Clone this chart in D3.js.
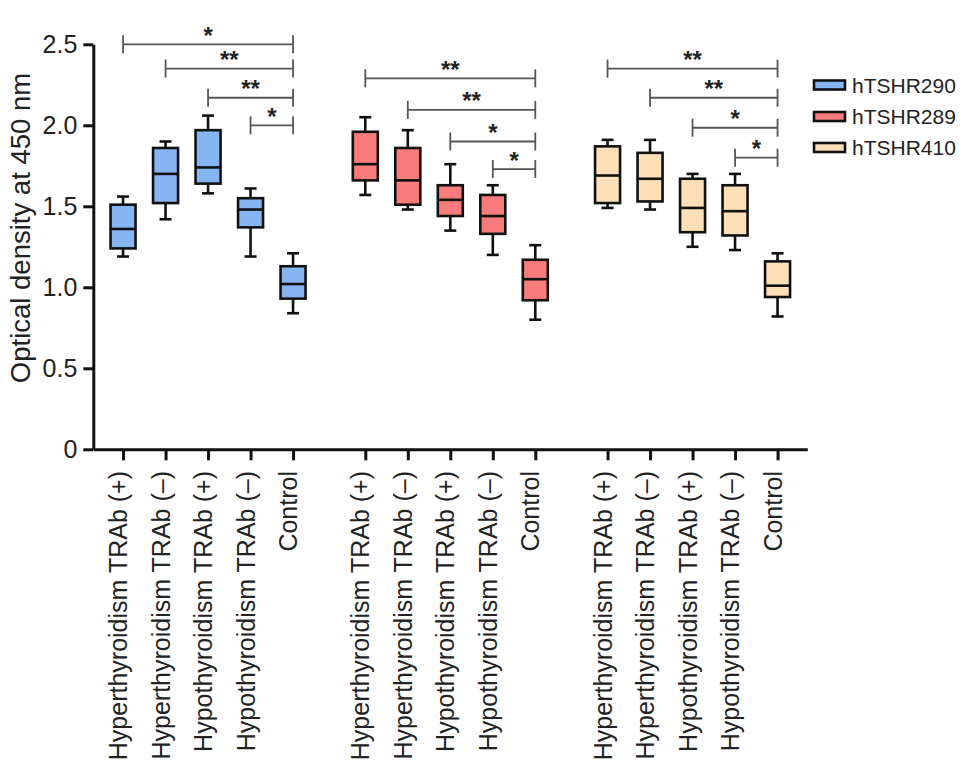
<!DOCTYPE html>
<html>
<head>
<meta charset="utf-8">
<script src="https://cdn.jsdelivr.net/npm/d3@7"></script>
<style>
  body { margin: 0; background: #fff; }
  text { font-family: "Liberation Sans", Arial, Helvetica, sans-serif; fill: #222; }
</style>
</head>
<body>
<div id="chart"></div>
<script>
// groups / series
var series = ["hTSHR290", "hTSHR289", "hTSHR410"];
var seriesColors = ["#86b6f2", "#f87c7c", "#fde0b8"];
var categories = ["Hyperthyroidism TRAb (+)", "Hyperthyroidism TRAb (\u2013)",
                  "Hypothyroidism TRAb (+)", "Hypothyroidism TRAb (\u2013)", "Control"];

// box stats per series: [whisker low, q1, median, q3, whisker high]
var box290 = [
  [1.19, 1.24, 1.36, 1.51, 1.56],
  [1.42, 1.52, 1.70, 1.86, 1.90],
  [1.58, 1.64, 1.74, 1.97, 2.06],
  [1.19, 1.37, 1.48, 1.55, 1.61],
  [0.84, 0.93, 1.02, 1.13, 1.21]
];
var box289 = [
  [1.57, 1.66, 1.76, 1.96, 2.05],
  [1.48, 1.51, 1.66, 1.86, 1.97],
  [1.35, 1.44, 1.54, 1.63, 1.76],
  [1.20, 1.33, 1.44, 1.57, 1.63],
  [0.80, 0.92, 1.05, 1.17, 1.26]
];
var box410 = [
  [1.49, 1.52, 1.69, 1.87, 1.91],
  [1.48, 1.53, 1.67, 1.83, 1.91],
  [1.25, 1.34, 1.49, 1.67, 1.70],
  [1.23, 1.32, 1.47, 1.63, 1.70],
  [0.82, 0.94, 1.01, 1.16, 1.21]
];
var boxes = [box290, box289, box410];

// significance brackets: group, from category, to category, height, label
var bracketGroup = [0, 0, 0, 0, 1, 1, 1, 1, 2, 2, 2, 2];
var bracketFrom  = [0, 1, 2, 3, 0, 1, 2, 3, 0, 1, 2, 3];
var bracketTo    = [4, 4, 4, 4, 4, 4, 4, 4, 4, 4, 4, 4];
var bracketY     = [2.50, 2.35, 2.17, 2.00, 2.29, 2.095, 1.90, 1.73, 2.35, 2.17, 1.985, 1.80];
var bracketLabel = ["*", "**", "**", "*", "**", "**", "*", "*", "**", "**", "*", "*"];

var yTicks = [0, 0.5, 1.0, 1.5, 2.0, 2.5];

var W = 969, H = 775;
var svg = d3.select("#chart").append("svg")
  .attr("width", W).attr("height", H);

// slot position of each box: group offset + category index
var groupStep = 5.7;
function slot(g, i) { return g * groupStep + i; }

var x = d3.scaleLinear().domain([-0.7, 16.1]).range([93.3, 807.3]);
var y = d3.scaleLinear().domain([0, 2.5]).range([449.3, 44.3]);

var allSlots = [];
series.forEach(function (s, g) {
  categories.forEach(function (c, i) { allSlots.push(slot(g, i)); });
});

// y axis
var yAxis = svg.append("g")
  .attr("transform", "translate(" + x(-0.7) + ",0)")
  .call(d3.axisLeft(y).tickValues(yTicks).tickSize(10).tickSizeOuter(0).tickPadding(6)
    .tickFormat(function (d) { return d === 0 ? "0" : d3.format(".1f")(d); }));
yAxis.selectAll("text").style("font-size", "25px").attr("fill", "#222");

// x axis
var xAxis = svg.append("g")
  .attr("transform", "translate(0," + y(0) + ")")
  .call(d3.axisBottom(x).tickValues(allSlots).tickSize(11).tickSizeOuter(0).tickFormat(""));

[yAxis, xAxis].forEach(function (a) {
  a.select(".domain").attr("stroke", "#111").attr("stroke-width", 3);
  a.selectAll(".tick line").attr("stroke", "#111").attr("stroke-width", 3);
});

// x labels
series.forEach(function (s, g) {
  categories.forEach(function (c, i) {
    svg.append("text")
      .attr("transform", "translate(" + (x(slot(g, i)) + 4) + ",471) rotate(-90)")
      .attr("text-anchor", "end")
      .style("font-size", "25px")
      .text(c);
  });
});

// y title
svg.append("text")
  .attr("transform", "translate(30,228) rotate(-90)")
  .attr("text-anchor", "middle")
  .style("font-size", "27.5px")
  .text("Optical density at 450 nm");

// boxes
var boxW = 25, capW = 12;
boxes.forEach(function (data, g) {
  var gg = svg.append("g");
  data.forEach(function (b, i) {
    var cx = x(slot(g, i));
    var bx = gg.append("g").attr("stroke", "#111").attr("stroke-width", 2.6);
    bx.append("line").attr("x1", cx).attr("x2", cx).attr("y1", y(b[0])).attr("y2", y(b[1]));
    bx.append("line").attr("x1", cx).attr("x2", cx).attr("y1", y(b[3])).attr("y2", y(b[4]));
    bx.append("line").attr("x1", cx - capW / 2).attr("x2", cx + capW / 2).attr("y1", y(b[0])).attr("y2", y(b[0]));
    bx.append("line").attr("x1", cx - capW / 2).attr("x2", cx + capW / 2).attr("y1", y(b[4])).attr("y2", y(b[4]));
    bx.append("rect")
      .attr("x", cx - boxW / 2).attr("width", boxW)
      .attr("y", y(b[3])).attr("height", y(b[1]) - y(b[3]))
      .attr("fill", seriesColors[g]);
    bx.append("line").attr("x1", cx - boxW / 2).attr("x2", cx + boxW / 2).attr("y1", y(b[2])).attr("y2", y(b[2]));
  });
});

// significance brackets
bracketGroup.forEach(function (g, k) {
  var x1 = x(slot(g, bracketFrom[k])), x2 = x(slot(g, bracketTo[k]));
  var yy = y(bracketY[k]);
  var br = svg.append("g").attr("stroke", "#555").attr("stroke-width", 1.8);
  br.append("line").attr("x1", x1).attr("x2", x2).attr("y1", yy).attr("y2", yy);
  br.append("line").attr("x1", x1).attr("x2", x1).attr("y1", yy - 9).attr("y2", yy + 9);
  br.append("line").attr("x1", x2).attr("x2", x2).attr("y1", yy - 9).attr("y2", yy + 9);
  svg.append("text")
    .attr("x", (x1 + x2) / 2)
    .attr("y", yy - 14.5 + 14)
    .attr("text-anchor", "middle")
    .style("font-size", "24px")
    .style("font-weight", "bold")
    .text(bracketLabel[k]);
});

// legend
var legendY = [85, 116.5, 147.5];
series.forEach(function (s, g) {
  svg.append("rect")
    .attr("x", 814).attr("y", legendY[g] - 4.5)
    .attr("width", 31).attr("height", 9)
    .attr("fill", seriesColors[g])
    .attr("stroke", "#111").attr("stroke-width", 2.6);
  svg.append("text")
    .attr("x", 852).attr("y", legendY[g] + 7.5)
    .style("font-size", "21px")
    .text(s);
});
</script>
</body>
</html>
